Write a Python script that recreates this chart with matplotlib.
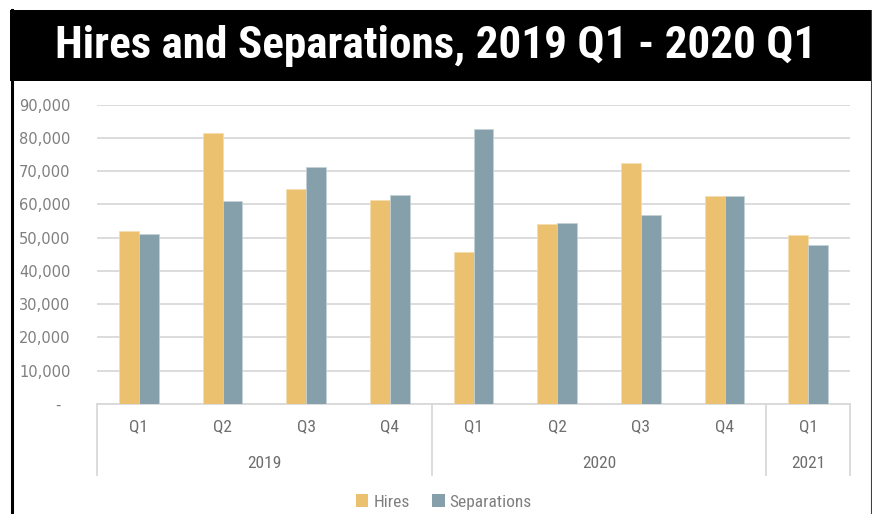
import matplotlib
matplotlib.use("Agg")
import matplotlib.pyplot as plt
from matplotlib.patches import Rectangle, Patch
from matplotlib.lines import Line2D
from matplotlib.transforms import blended_transform_factory

# data
quarters = ["Q1", "Q2", "Q3", "Q4", "Q1", "Q2", "Q3", "Q4", "Q1"]
years = ["2019", "2020", "2021"]
year_spans = [(0, 3), (4, 7), (8, 8)]
hires = [52000, 81500, 64800, 61200, 45600, 54000, 72500, 62500, 50900]
separations = [51000, 60900, 71300, 62900, 82600, 54300, 56900, 62500, 47700]
y_ticks = [0, 10000, 20000, 30000, 40000, 50000, 60000, 70000, 80000, 90000]
y_labels = ["-  ", "10,000", "20,000", "30,000", "40,000", "50,000",
            "60,000", "70,000", "80,000", "90,000"]

W, H = 872, 514
HIRES_C = "#EBC06F"
SEP_C = "#85A0AA"
GRID_C = "#D9D9D9"
TXT_C = "#7F7F7F"
COND = ["Roboto Condensed", "Liberation Sans"]


def fx(px):
    return px / W


def fy(py):
    return 1 - py / H


fig = plt.figure(figsize=(W / 100, H / 100), dpi=100)
fig.patch.set_facecolor("white")

# plot area in pixel terms
ax_l, ax_r, ax_t, ax_b = 97, 850, 104.7, 404
ax = fig.add_axes([fx(ax_l), fy(ax_b), fx(ax_r - ax_l), (ax_b - ax_t) / H])

n = len(quarters)
x = list(range(n))
bw = 0.239
ax.bar([i - bw / 2 for i in x], hires, width=bw, color=HIRES_C,
       edgecolor="#F5DDB0", linewidth=0.5, zorder=3)
ax.bar([i + bw / 2 for i in x], separations, width=bw, color=SEP_C,
       edgecolor="#C5D3D8", linewidth=0.5, zorder=3)

ax.set_xlim(-0.5, n - 0.5)
ax.set_ylim(0, 90000)
ax.set_yticks(y_ticks)
ax.set_yticklabels(y_labels, color=TXT_C, fontsize=10.5, family="DejaVu Sans")
ax.tick_params(axis="y", length=0, pad=19)
ax.set_xticks([])
ax.grid(axis="y", color=GRID_C, linewidth=1.3, zorder=0)
for s in ["top", "left", "right"]:
    ax.spines[s].set_visible(False)
ax.spines["bottom"].set_color(GRID_C)
ax.spines["bottom"].set_linewidth(1.3)

# multi-level category axis
tr = blended_transform_factory(ax.transData, ax.transAxes)
span = ax_b - ax_t


def ay(py):
    return -(py - ax_b) / span


for i, q in enumerate(quarters):
    ax.text(i, ay(427), q, transform=tr, ha="center", va="center",
            fontsize=12.5, color="#6E6E6E", family=COND)
for yr, (a, b) in zip(years, year_spans):
    ax.text((a + b) / 2, ay(464), yr, transform=tr, ha="center", va="center",
            fontsize=12.5, color="#6E6E6E", family=COND)
for xb in [-0.5, 3.5, 7.5, 8.5]:
    ax.plot([xb, xb], [0, ay(475)], transform=tr, color=GRID_C,
            linewidth=1.3, clip_on=False)

# legend
handles = [Patch(facecolor=HIRES_C, edgecolor="none", label="Hires"),
           Patch(facecolor=SEP_C, edgecolor="none", label="Separations")]
leg = fig.legend(handles=handles, loc="center", ncol=2,
                 bbox_to_anchor=(fx(444), fy(502)), frameon=False,
                 handlelength=0.7, handleheight=0.7, handletextpad=0.3,
                 columnspacing=1.3, prop={"family": COND, "size": 12.5})
for t in leg.get_texts():
    t.set_color(TXT_C)

# title band and frame
fig.add_artist(Rectangle((fx(10), fy(81)), fx(871 - 10), 71 / H,
                         facecolor="black", edgecolor="none",
                         transform=fig.transFigure))
fig.add_artist(Line2D([fx(11.5), fx(11.5)], [0, fy(10)], color="black",
                      linewidth=2.2, transform=fig.transFigure))
fig.add_artist(Line2D([fx(870.5), fx(870.5)], [0, fy(10)], color="#404040",
                      linewidth=0.8, transform=fig.transFigure))
fig.text(fx(436), fy(46), "Hires and Separations, 2019 Q1 - 2020 Q1",
         color="white", fontsize=32.5, fontweight="bold", ha="center", va="center",
         family=COND)

fig.savefig("out.png", dpi=100)
